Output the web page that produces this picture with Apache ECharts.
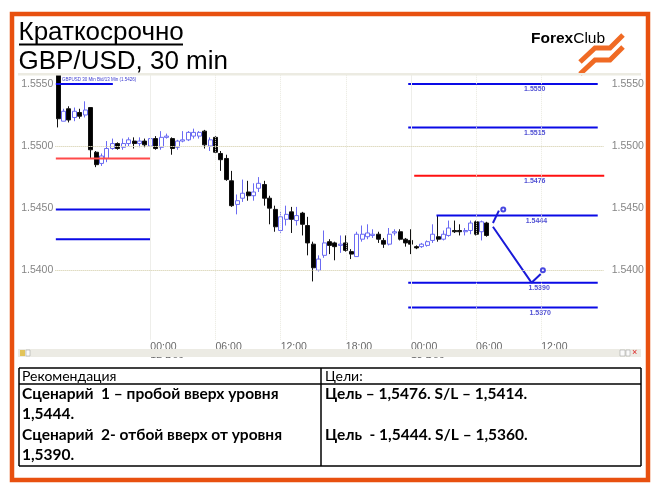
<!DOCTYPE html>
<html><head><meta charset="utf-8">
<script src="https://cdn.jsdelivr.net/npm/echarts@6/dist/echarts.min.js"></script>
<style>html,body{margin:0;padding:0;background:#fff}#c{width:659px;height:495px}</style>
</head><body><div id="c"></div>
<script>
// ---- data ----
const opens  = [1.5557,1.5520,1.5530,1.5523,1.5527,1.5525,1.5531,1.5495,1.5486,1.5490,1.5498,1.5502,1.5499,1.5502,1.5504,1.5502,1.5504,1.5500,1.5506,1.5499,
                1.5507,1.5506,1.5499,1.5504,1.5505,1.5508,1.5508,1.5512,1.5500,1.5507,1.5494,1.5490,1.5472,1.5453,1.5458,1.5463,1.5460,1.5466,1.5469,1.5458,
                1.5449,1.5432,1.5441,1.5447,1.5440,1.5446,1.5436,1.5421,1.5400,1.5412,1.5423,1.5422,1.5420,1.5422,1.5415,1.5411,1.5425,1.5427,1.5428,1.5429,
                1.5424,1.5421,1.5430,1.5431,1.5425,1.5424,1.5419,1.5419,1.5420,1.5424,1.5427,1.5425,1.5428,1.5432,1.5432,1.5431,1.5432,1.5439,1.5431,1.5438];
const closes = [1.5522,1.5528,1.5521,1.5528,1.5524,1.5529,1.5497,1.5485,1.5492,1.5498,1.5502,1.5498,1.5502,1.5505,1.5502,1.5504,1.5501,1.5506,1.5498,1.5507,
                1.5508,1.5498,1.5504,1.5505,1.5511,1.5511,1.5511,1.5501,1.5505,1.5495,1.5489,1.5473,1.5452,1.5456,1.5462,1.5460,1.5463,1.5470,1.5458,1.5450,
                1.5435,1.5443,1.5445,1.5441,1.5444,1.5437,1.5422,1.5402,1.5409,1.5422,1.5420,1.5419,1.5421,1.5416,1.5413,1.5429,1.5429,1.5430,1.5429,1.5425,
                1.5421,1.5429,1.5431,1.5425,1.5422,1.5421,1.5418,1.5421,1.5423,1.5429,1.5425,1.5429,1.5434,1.5431,1.5431,1.5432,1.5438,1.5429,1.5439,1.5428];
const lows   = [1.5515,1.5520,1.5519,1.5520,1.5522,1.5523,1.5490,1.5483,1.5484,1.5487,1.5497,1.5497,1.5497,1.5500,1.5498,1.5499,1.5499,1.5499,1.5497,1.5497,
                1.5506,1.5493,1.5497,1.5503,1.5504,1.5506,1.5506,1.5498,1.5496,1.5494,1.5480,1.5472,1.5451,1.5445,1.5455,1.5456,1.5456,1.5463,1.5452,1.5437,
                1.5431,1.5430,1.5436,1.5430,1.5436,1.5428,1.5412,1.5391,1.5399,1.5410,1.5413,1.5408,1.5414,1.5415,1.5409,1.5411,1.5423,1.5425,1.5426,1.5422,
                1.5418,1.5420,1.5428,1.5424,1.5419,1.5413,1.5417,1.5418,1.5419,1.5422,1.5423,1.5424,1.5427,1.5430,1.5428,1.5428,1.5429,1.5428,1.5424,1.5427];
const highs  = [1.5558,1.5530,1.5532,1.5531,1.5530,1.5536,1.5531,1.5496,1.5494,1.5504,1.5506,1.5503,1.5506,1.5507,1.5507,1.5507,1.5506,1.5508,1.5508,1.5512,
                1.5510,1.5507,1.5505,1.5512,1.5512,1.5514,1.5512,1.5513,1.5507,1.5508,1.5496,1.5493,1.5480,1.5461,1.5473,1.5472,1.5470,1.5475,1.5472,1.5460,
                1.5452,1.5447,1.5452,1.5451,1.5451,1.5447,1.5443,1.5423,1.5412,1.5432,1.5425,1.5423,1.5428,1.5428,1.5417,1.5431,1.5436,1.5437,1.5433,1.5431,
                1.5426,1.5434,1.5433,1.5433,1.5426,1.5433,1.5420,1.5422,1.5424,1.5437,1.5444,1.5432,1.5440,1.5440,1.5437,1.5434,1.5440,1.5440,1.5440,1.5439];
const firstBarMinutes = 15 * 60 + 30;   // 15:30
const slotCount = 101;                   // 30-min slots on the time axis
const dayLabels = ['12 Dec', '13 Dec'];
const yTickValues = [1.5400, 1.5450, 1.5500, 1.5550];
const timeGridSlots = [17, 29, 41, 53, 65, 77, 89];

const rightLevels     = [1.5550, 1.5515, 1.5476, 1.5444, 1.5390, 1.5370];
const rightLevelFrom  = [64.5, 64.5, 65.6, 69.7, 64.5, 64.5];
const rightLevelTo    = [99.4, 99.4, 100.6, 99.4, 99.4, 99.4];
const rightLevelLabel = [87.8, 87.8, 87.8, 88.1, 88.6, 88.8];
const rightLevelIsRed = [false, false, true, false, false, false];

const leftLevels    = [1.5550, 1.5490, 1.5449, 1.5425];
const leftLevelFrom = [-0.4, -0.4, -0.4, -0.4];
const leftLevelTo   = [10.1, 17.1, 17.1, 17.1];
const leftLevelIsRed = [false, true, false, false];

const scenarioUp   = [[80.1, 1.5438], [81.2, 1.5448]];
const scenarioDown = [[80.1, 1.5435], [87.2, 1.5390], [88.9, 1.5397]];
const scenarioEnds = [[82.0, 1.5449], [89.3, 1.5400]];

// ---- build ----
const cats = [];
for (let i = 0; i < slotCount; i++) {
  const m = (firstBarMinutes + 30 * i) % 1440;
  cats.push(String(Math.floor(m / 60)).padStart(2, '0') + ':' + String(m % 60).padStart(2, '0'));
}
const ohlc = opens.map((o, i) => [o, closes[i], lows[i], highs[i]]);

const BLUE = '#0a0ae6', RED = '#ff1010', LRED = '#ff4a4a', LBLUE = '#1a1ad8';
const series = [];
series.push({
  type: 'candlestick', xAxisIndex: 0, yAxisIndex: 0, data: ohlc, barWidth: 4.5,
  itemStyle: { color: '#ffffff', color0: '#000000', borderColor: '#6b6bf3', borderColor0: '#111', borderWidth: 1 }
});
// grid lines
series.push({
  type: 'line', xAxisIndex: 1, yAxisIndex: 0, data: [], silent: true, z: 1,
  markLine: {
    silent: true, symbol: 'none', label: { show: false }, animation: false,
    data: timeGridSlots.map(s => ({ xAxis: s, lineStyle: { color: cats[s] === '00:00' ? '#eeeeea' : '#e9e9df', type: cats[s] === '00:00' ? 'solid' : 'dotted', width: 1 } }))
      .concat(yTickValues.map(v => ({ yAxis: v, lineStyle: { color: '#ddd9bd', type: 'dotted', width: 1 } })))
  }
});
rightLevels.forEach((v, i) => {
  series.push({ type: 'line', xAxisIndex: 1, yAxisIndex: 0, symbol: 'none', silent: true,
    data: [[rightLevelFrom[i], v], [rightLevelTo[i], v]],
    lineStyle: { color: rightLevelIsRed[i] ? RED : BLUE, width: 2 } });
});
leftLevels.forEach((v, i) => {
  series.push({ type: 'line', xAxisIndex: 1, yAxisIndex: 0, symbol: 'none', silent: true,
    data: [[leftLevelFrom[i], v], [leftLevelTo[i], v]],
    lineStyle: { color: leftLevelIsRed[i] ? LRED : BLUE, width: 2 } });
});
series.push({
  type: 'scatter', xAxisIndex: 1, yAxisIndex: 0, symbolSize: 0, silent: true,
  data: rightLevels.map((v, i) => [rightLevelLabel[i], v]),
  label: { show: true, position: 'bottom', distance: 2, formatter: p => p.value[1].toFixed(4),
    fontSize: 7, fontWeight: 'bold', color: '#2323c8', fontFamily: 'Liberation Sans' }
});
[scenarioUp, scenarioDown].forEach(d => series.push({
  type: 'line', xAxisIndex: 1, yAxisIndex: 0, symbol: 'none', silent: true, data: d,
  lineStyle: { color: LBLUE, width: 2 }
}));
series.push({ type: 'scatter', xAxisIndex: 1, yAxisIndex: 0, symbol: 'emptyCircle', symbolSize: 4, silent: true, z: 5,
  data: scenarioEnds, itemStyle: { color: LBLUE, borderColor: LBLUE, borderWidth: 1.2 } });

const yLabelFmt = v => yTickValues.some(t => Math.abs(t - v) < 1e-6) ? v.toFixed(4) : '';
const yAxisBase = {
  type: 'value', min: 1.5344, max: 1.5558, interval: 0.0002, scale: true,
  axisLine: { show: false }, axisTick: { show: false }, splitLine: { show: false },
  axisLabel: { formatter: yLabelFmt, color: '#858585', fontSize: 10.5, fontFamily: 'Liberation Sans' }
};

const ORANGE = '#e8500f';
const TXT = { fontFamily: 'Lato', fill: '#000' };
const graphic = [
  { type: 'rect', z: 100, shape: { x: 12, y: 14, width: 636, height: 466 }, style: { fill: 'none', stroke: ORANGE, lineWidth: 4.5 } },
  { type: 'text', z: 100, x: 18.5, y: 33, style: { text: 'Краткосрочно', fontSize: 26, fontFamily: 'Liberation Sans', fill: '#000', verticalAlign: 'middle' } },
  { type: 'line', z: 100, shape: { x1: 19, y1: 44.5, x2: 183, y2: 44.5 }, style: { stroke: '#000', lineWidth: 2 } },
  { type: 'text', z: 100, x: 18.5, y: 62, style: { text: 'GBP/USD, 30 min', fontSize: 26, fontFamily: 'Liberation Sans', fill: '#000', verticalAlign: 'middle' } },
  // logo
  { type: 'text', z: 100, x: 531, y: 39, style: { text: '{a|Forex}{b|Club}', rich: { a: { fontSize: 15.5, fontWeight: 'bold', fontFamily: 'Liberation Sans', color: '#3a3a3a' }, b: { fontSize: 15.5, fontFamily: 'Liberation Sans', color: '#3a3a3a' } }, verticalAlign: 'middle' } },
  { type: 'polyline', z: 100, shape: { points: [[623, 35], [610, 48], [595, 48], [580, 62]] }, style: { stroke: '#f06a24', lineWidth: 5, fill: 'none', lineJoin: 'miter' } },
  { type: 'polyline', z: 100, shape: { points: [[623, 47], [610, 60], [595, 60], [580, 74]] }, style: { stroke: '#f06a24', lineWidth: 5, fill: 'none', lineJoin: 'miter' } },
  // chart top strip and scrollbar
  { type: 'rect', z: 100, shape: { x: 18, y: 73, width: 623, height: 2.5 }, style: { fill: '#ecebe2' } },
  { type: 'text', z: 100, x: 62, y: 79.5, style: { text: 'GBPUSD 30 Min Bid/13 Min (1.5426)', fontSize: 4.5, fontFamily: 'Liberation Sans', fill: '#3a3ad0', verticalAlign: 'middle' } },
  { type: 'rect', z: 100, shape: { x: 18, y: 349, width: 623, height: 8 }, style: { fill: '#ecebe4' } },
  { type: 'rect', z: 101, shape: { x: 20, y: 350, width: 5, height: 6 }, style: { fill: '#e2c45a' } },
  { type: 'rect', z: 101, shape: { x: 26, y: 350, width: 4, height: 6 }, style: { fill: '#fafafa', stroke: '#999', lineWidth: 0.5 } },
  { type: 'rect', z: 101, shape: { x: 620, y: 350, width: 5, height: 6 }, style: { fill: '#fafafa', stroke: '#999', lineWidth: 0.5 } },
  { type: 'rect', z: 101, shape: { x: 626, y: 350, width: 4, height: 6 }, style: { fill: '#fafafa', stroke: '#999', lineWidth: 0.5 } },
  { type: 'text', z: 101, x: 632, y: 353, style: { text: '×', fontSize: 9, fill: '#d22', verticalAlign: 'middle' } },
  // table
  { type: 'polyline', z: 100, shape: { points: [[19, 368], [641, 368]] }, style: { stroke: '#000', lineWidth: 1.5 } },
  { type: 'polyline', z: 100, shape: { points: [[19, 384], [641, 384]] }, style: { stroke: '#000', lineWidth: 1.5 } },
  { type: 'polyline', z: 100, shape: { points: [[19, 466], [641, 466]] }, style: { stroke: '#000', lineWidth: 1.5 } },
  { type: 'polyline', z: 100, shape: { points: [[19, 368], [19, 466]] }, style: { stroke: '#000', lineWidth: 1.5 } },
  { type: 'polyline', z: 100, shape: { points: [[321, 368], [321, 466]] }, style: { stroke: '#000', lineWidth: 1.5 } },
  { type: 'polyline', z: 100, shape: { points: [[641, 368], [641, 466]] }, style: { stroke: '#000', lineWidth: 1.5 } },
  { type: 'text', z: 100, x: 22, y: 376, style: Object.assign({ text: 'Рекомендация', fontSize: 14, verticalAlign: 'middle' }, TXT) },
  { type: 'text', z: 100, x: 325, y: 376, style: Object.assign({ text: 'Цели:', fontSize: 14, verticalAlign: 'middle' }, TXT) },
  { type: 'text', z: 100, x: 22, y: 394, style: Object.assign({ text: 'Сценарий  1 – пробой вверх уровня', fontSize: 15.5, fontWeight: 'bold', verticalAlign: 'middle' }, TXT) },
  { type: 'text', z: 100, x: 22, y: 414, style: Object.assign({ text: '1,5444.', fontSize: 15.5, fontWeight: 'bold', verticalAlign: 'middle' }, TXT) },
  { type: 'text', z: 100, x: 22, y: 435, style: Object.assign({ text: 'Сценарий  2- отбой вверх от уровня', fontSize: 15.5, fontWeight: 'bold', verticalAlign: 'middle' }, TXT) },
  { type: 'text', z: 100, x: 22, y: 455, style: Object.assign({ text: '1,5390.', fontSize: 15.5, fontWeight: 'bold', verticalAlign: 'middle' }, TXT) },
  { type: 'text', z: 100, x: 325, y: 394, style: Object.assign({ text: 'Цель – 1,5476. S/L – 1,5414.', fontSize: 15.5, fontWeight: 'bold', verticalAlign: 'middle' }, TXT) },
  { type: 'text', z: 100, x: 325, y: 435, style: Object.assign({ text: 'Цель  - 1,5444. S/L – 1,5360.', fontSize: 15.5, fontWeight: 'bold', verticalAlign: 'middle' }, TXT) }
];

const chart = echarts.init(document.getElementById('c'), null, { renderer: 'canvas' });
chart.setOption({
  animation: false,
  backgroundColor: '#ffffff',
  grid: { left: 55.3, width: 548.4, top: 74, height: 265.8 },
  xAxis: [
    { type: 'category', data: cats, boundaryGap: true,
      axisLine: { show: false }, axisTick: { show: false }, splitLine: { show: false },
      axisLabel: {
        interval: (idx) => timeGridSlots.indexOf(idx) >= 0,
        align: 'left', margin: 2, color: '#6a6a6a', fontFamily: 'Liberation Sans',
        formatter: (val, idx) => val === '00:00' ? '{t|' + val + '}\n{d|' + dayLabels[idx < 40 ? 0 : 1] + '}' : '{t|' + val + '}',
        rich: { t: { fontSize: 10.5, lineHeight: 10, color: '#6a6a6a', fontFamily: 'Liberation Sans' },
                d: { fontSize: 10.5, lineHeight: 6, color: '#6a6a6a', fontFamily: 'Liberation Sans' } }
      } },
    { type: 'value', min: -0.5, max: slotCount - 0.5, show: false }
  ],
  yAxis: [
    Object.assign({}, yAxisBase, { position: 'left', axisLabel: Object.assign({}, yAxisBase.axisLabel, { margin: 2 }) }),
    Object.assign({}, yAxisBase, { position: 'right', axisLabel: Object.assign({}, yAxisBase.axisLabel, { margin: 8 }) })
  ],
  series: series,
  graphic: graphic
});
</script></body></html>
